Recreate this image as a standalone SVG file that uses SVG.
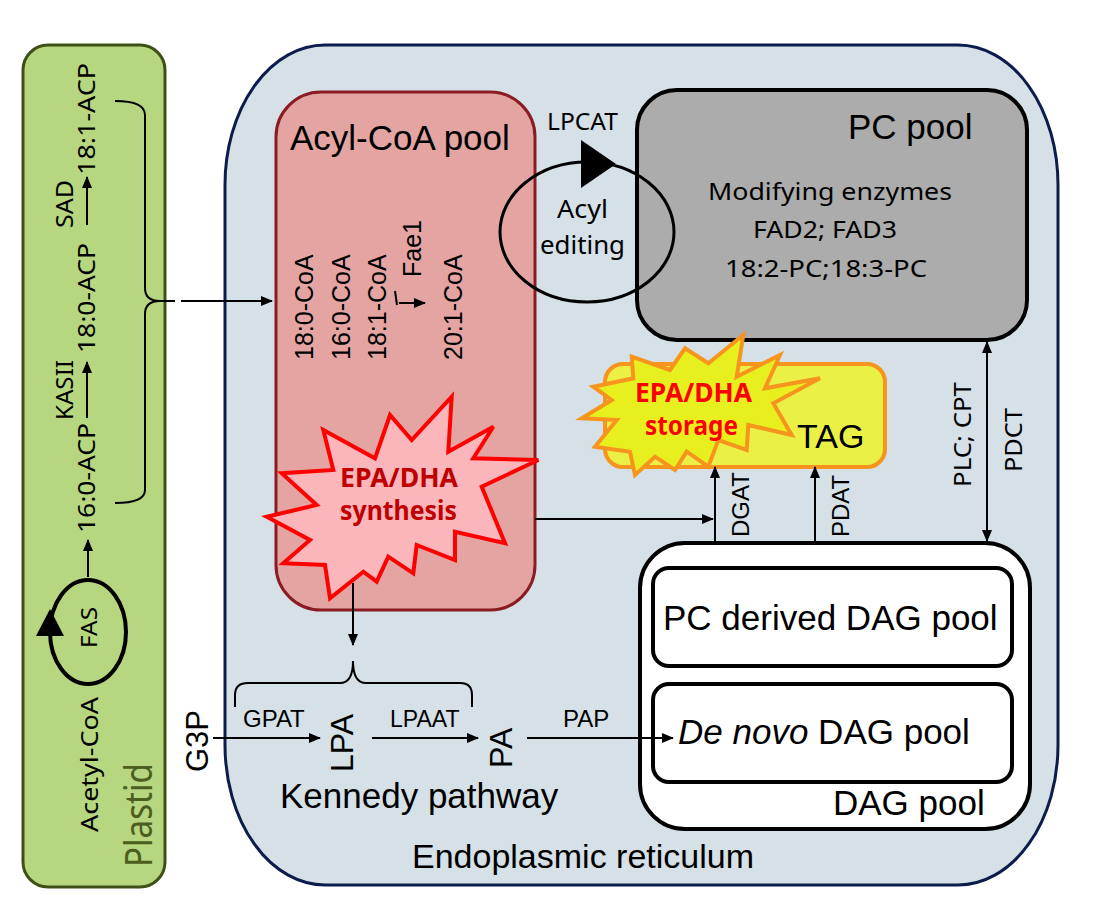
<svg xmlns="http://www.w3.org/2000/svg" width="1096" height="904" viewBox="0 0 1096 904">
<defs>
<marker id="ah" markerUnits="userSpaceOnUse" markerWidth="12" markerHeight="10" refX="11" refY="5" orient="auto-start-reverse">
<path d="M0,0 L12,5 L0,10 z" fill="#000"/>
</marker>
<style>
.a{font-family:"Liberation Sans",Arial,sans-serif;fill:#000}
.c{font-family:"Noto Sans","Open Sans",sans-serif;fill:#000}
.ln{stroke:#000;stroke-width:2;fill:none}
.arr{stroke:#000;stroke-width:2;fill:none;marker-end:url(#ah)}
</style>
</defs>
<rect width="1096" height="904" fill="#fff"/>

<g id="plastid">
<rect x="23" y="45" width="142" height="842" rx="25" fill="#b6d77f" stroke="#3f5017" stroke-width="3"/>
<text class="c" font-size="38" style="fill:#4b5e1e" transform="translate(152,867) rotate(-90)" textLength="104" lengthAdjust="spacingAndGlyphs">Plastid</text>
<text class="c" font-size="24" transform="translate(98,832) rotate(-90)" textLength="135" lengthAdjust="spacingAndGlyphs">Acetyl-CoA</text>
<ellipse cx="88" cy="632" rx="38" ry="52" fill="none" stroke="#000" stroke-width="4"/>
<polygon points="36,636 64,636 50,609" fill="#000"/>
<text class="c" font-size="22" transform="translate(97,648) rotate(-90)" textLength="41" lengthAdjust="spacingAndGlyphs">FAS</text>
<text class="c" font-size="24" transform="translate(95,533) rotate(-90)" textLength="110" lengthAdjust="spacingAndGlyphs">16:0-ACP</text>
<text class="c" font-size="24" transform="translate(73,420) rotate(-90)" textLength="60" lengthAdjust="spacingAndGlyphs">KASII</text>
<text class="c" font-size="24" transform="translate(95,353) rotate(-90)" textLength="110" lengthAdjust="spacingAndGlyphs">18:0-ACP</text>
<text class="c" font-size="24" transform="translate(73,228) rotate(-90)" textLength="48" lengthAdjust="spacingAndGlyphs">SAD</text>
<text class="c" font-size="24" transform="translate(95,175) rotate(-90)" textLength="112" lengthAdjust="spacingAndGlyphs">18:1-ACP</text>
</g>

<g id="er">
<rect x="225" y="45" width="833" height="840" rx="100" ry="140" fill="#d5e0e7" stroke="#0c1c4c" stroke-width="3"/>
<text class="a" font-size="34" x="583" y="868" text-anchor="middle">Endoplasmic reticulum</text>
</g>

<g id="acyl-coa-pool">
<rect x="276" y="92" width="259" height="518" rx="45" fill="#e4a5a2" stroke="#8b1c24" stroke-width="3"/>
<text class="a" font-size="35" x="290" y="150">Acyl-CoA pool</text>
<text class="a" font-size="25" transform="translate(313,360) rotate(-90)">18:0-CoA</text>
<text class="a" font-size="25" transform="translate(350,360) rotate(-90)">16:0-CoA</text>
<text class="a" font-size="25" transform="translate(386,360) rotate(-90)">18:1-CoA</text>
<text class="a" font-size="25" transform="translate(421,277) rotate(-90)">Fae1</text>
<text class="a" font-size="25" transform="translate(462,360) rotate(-90)">20:1-CoA</text>
<path d="M395,291 L397,305" class="ln" stroke-width="1.5"/>
<path d="M399,303 L425,303" class="arr" stroke-width="1.5"/>
</g>

<g id="epa-dha-synthesis">
<polygon points="451.7,396.7 448.3,451.7 493.3,426.7 473.3,458.3 538.3,460 481.7,486.7 505,543.3 455,531.7 455,560 416.7,545 413.3,573.3 388.3,556.7 376.7,581.7 363.3,571.7 330,598.3 325,565 283.3,563.3 310,540 266.7,516.7 316.7,505 281.7,473.3 333.3,470 323.3,430 375,458.3 390,415 411.7,440" fill="#fbb6bb" stroke="#ff0000" stroke-width="4" stroke-linejoin="miter"/>
<text class="c" font-size="26" font-weight="bold" style="fill:#c00000" x="340" y="487" textLength="118" lengthAdjust="spacingAndGlyphs">EPA/DHA</text>
<text class="c" font-size="26" font-weight="bold" style="fill:#c00000" x="340" y="520" textLength="117" lengthAdjust="spacingAndGlyphs">synthesis</text>
</g>

<g id="pc-pool">
<rect x="637" y="90" width="390" height="250" rx="40" fill="#acacac" stroke="#000" stroke-width="4"/>
<text class="a" font-size="35" x="848" y="139">PC pool</text>
<text class="c" font-size="24" x="708" y="200" textLength="244" lengthAdjust="spacingAndGlyphs">Modifying enzymes</text>
<text class="c" font-size="24" x="753" y="238" textLength="144" lengthAdjust="spacingAndGlyphs">FAD2; FAD3</text>
<text class="c" font-size="24" x="725" y="277" textLength="202" lengthAdjust="spacingAndGlyphs">18:2-PC;18:3-PC</text>
</g>

<g id="acyl-editing">
<ellipse cx="587" cy="232" rx="87" ry="70" fill="none" stroke="#000" stroke-width="3"/>
<polygon points="581,140 581,188 616,164" fill="#000"/>
<text class="c" font-size="24" x="547" y="130" textLength="71" lengthAdjust="spacingAndGlyphs">LPCAT</text>
<text class="c" font-size="25" x="557" y="218" textLength="51" lengthAdjust="spacingAndGlyphs">Acyl</text>
<text class="c" font-size="25" x="540" y="254" textLength="85" lengthAdjust="spacingAndGlyphs">editing</text>
</g>

<g id="tag">
<rect x="605" y="364" width="280" height="103" rx="18" fill="#ebf047" stroke="#f7941d" stroke-width="4"/>
<text class="a" font-size="34" x="797" y="448">TAG</text>
</g>

<g id="epa-dha-storage">
<polygon points="743.3,335 736.7,376.7 780,355 765,388.3 820,378.3 773.3,403.3 791.7,435 748.3,425 746.7,450 718.3,440 708.3,466.7 686.7,451.7 675,470 655,456.7 635,475 630,451.7 595,446.7 616.7,420 581.7,418.3 611.7,400 593.3,386.7 633.3,378.3 631.7,356.7 670,370 685,348.3 708.3,363.3" fill="#e7f01e" stroke="#f7941d" stroke-width="4"/>
<text class="c" font-size="26" font-weight="bold" style="fill:#ff0000" x="635" y="402" textLength="117" lengthAdjust="spacingAndGlyphs">EPA/DHA</text>
<text class="c" font-size="26" font-weight="bold" style="fill:#ff0000" x="645" y="435" textLength="93" lengthAdjust="spacingAndGlyphs">storage</text>
</g>

<g id="dag-pool">
<rect x="640" y="543" width="390" height="286" rx="45" fill="#fff" stroke="#000" stroke-width="4"/>
<rect x="653" y="568" width="359" height="98" rx="16" fill="#fff" stroke="#000" stroke-width="4"/>
<rect x="653" y="684" width="359" height="98" rx="16" fill="#fff" stroke="#000" stroke-width="4"/>
<text class="a" font-size="35" x="663" y="630">PC derived DAG pool</text>
<text class="a" font-size="35" x="678" y="744"><tspan font-style="italic">De novo</tspan> DAG pool</text>
<text class="a" font-size="35" x="833" y="815">DAG pool</text>
</g>

<g id="kennedy">
<text class="a" font-size="31" transform="translate(208,772) rotate(-90)">G3P</text>
<text class="a" font-size="32" transform="translate(353,772) rotate(-90)">LPA</text>
<text class="a" font-size="32" transform="translate(512,768) rotate(-90)">PA</text>
<text class="a" font-size="24" x="243" y="727">GPAT</text>
<text class="a" font-size="23" x="390" y="727">LPAAT</text>
<text class="a" font-size="24" x="563" y="727">PAP</text>
<text class="a" font-size="35" x="280" y="808">Kennedy pathway</text>
</g>

<g id="connectors">
<path d="M88,577 L88,540" class="arr"/>
<path d="M87,418 L87,362" class="arr"/>
<path d="M87,225 L87,177" class="arr"/>
<path d="M115,101 Q145,101 145,115 L145,288 Q145,301 160,301 L175,301 M160,301 Q145,301 145,314 L145,490 Q145,503 115,503" class="ln"/>
<path d="M181,301 L272,301" class="arr"/>
<path d="M535,519 L713,519" class="arr"/>
<path d="M715,543 L715,467" class="arr"/>
<path d="M815,543 L815,467" class="arr"/>
<path d="M987,342 L987,541" class="arr" style="marker-start:url(#ah)"/>
<path d="M353,583 L353,645" class="arr"/>
<path d="M235,707 L235,695 Q235,683 248,683 L340,683 Q353,683 353,661 Q353,683 366,683 L460,683 Q472,683 472,695 L472,707" class="ln"/>
<path d="M213,738 L320,738" class="arr"/>
<path d="M372,738 L478,738" class="arr"/>
<path d="M527,738 L673,738" class="arr"/>
</g>

<g id="pdct-labels">
<text class="c" font-size="24" transform="translate(971,487) rotate(-90)" textLength="105" lengthAdjust="spacingAndGlyphs">PLC; CPT</text>
<text class="c" font-size="24" transform="translate(1022,472) rotate(-90)" textLength="64" lengthAdjust="spacingAndGlyphs">PDCT</text>
<text class="a" font-size="24" transform="translate(749,537) rotate(-90)">DGAT</text>
<text class="a" font-size="24" transform="translate(849,537) rotate(-90)">PDAT</text>
</g>
</svg>
